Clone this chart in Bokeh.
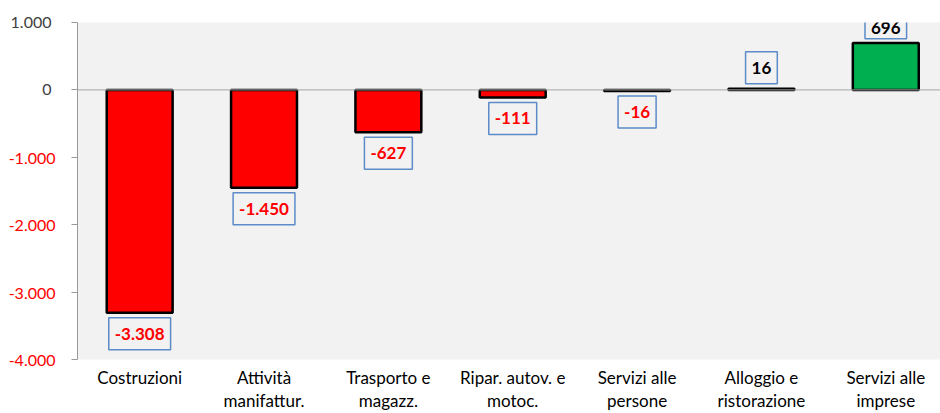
from bokeh.plotting import figure
from bokeh.models import (Range1d, FixedTicker, LinearAxis, Span, Label)
from bokeh.embed import file_html
from bokeh.resources import INLINE

categories = ["Costruzioni", "Attività\nmanifattur.", "Trasporto e\nmagazz.",
              "Ripar. autov. e\nmotoc.", "Servizi alle\npersone",
              "Alloggio e\nristorazione", "Servizi alle\nimprese"]
values = [-3308, -1450, -627, -111, -16, 16, 696]
y_ticks = [-4000, -3000, -2000, -1000, 0, 1000]

def it_fmt(v):
    return f"{v:,}".replace(",", ".")

x_pos = list(range(len(categories)))
colors = ["#FF0000" if v < 0 else "#00B050" for v in values]

FONT = "Lato"
Y0, Y1 = -4000, 1000
FRAME_H = 337

p = figure(width=940, height=413, output_backend="svg", toolbar_location=None,
           x_range=Range1d(-0.5, 6.44), y_range=Range1d(Y0, Y1),
           min_border_top=22, min_border_right=0, min_border_left=77,
           min_border_bottom=10)
p.background_fill_color = "#F2F2F2"
p.border_fill_color = "white"
p.outline_line_color = None
p.xgrid.visible = False
p.ygrid.visible = False

# x axis
xa = p.xaxis[0]
xa.ticker = FixedTicker(ticks=x_pos)
xa.major_label_overrides = {i: c for i, c in zip(x_pos, categories)}
xa.axis_line_color = None
xa.major_tick_line_color = None
xa.minor_tick_line_color = None
xa.major_label_text_font = FONT
xa.major_label_text_font_size = "17px"
xa.major_label_text_color = "#000000"
xa.major_label_text_line_height = 1.1
xa.major_label_standoff = 1

# y axis (negative labels in red)
ya = p.yaxis[0]
ya.ticker = FixedTicker(ticks=y_ticks)
ya.major_label_overrides = {t: (it_fmt(t) if t < 0 else " ") for t in y_ticks}
ya.axis_line_color = "#999999"
ya.major_tick_line_color = "#999999"
ya.major_tick_out = 6
ya.major_tick_in = 0
ya.minor_tick_line_color = None
ya.major_label_text_font = FONT
ya.major_label_text_font_size = "16px"
ya.major_label_text_color = "#FF0000"
ya.major_label_standoff = 16

# second y axis for non-negative labels (dark)
ya2 = LinearAxis(ticker=FixedTicker(ticks=[t for t in y_ticks if t >= 0]))
ya2.major_label_overrides = {t: it_fmt(t) for t in y_ticks if t >= 0}
ya2.axis_line_color = None
ya2.major_tick_line_color = None
ya2.minor_tick_line_color = None
ya2.major_label_text_font = FONT
ya2.major_label_text_font_size = "16px"
ya2.major_label_text_color = "#404040"
ya2.major_label_standoff = -52
p.add_layout(ya2, "left")

p.add_layout(Span(location=0, dimension="width", line_color="#A6A6A6", line_width=1))

p.vbar(x=x_pos, top=values, bottom=0, width=0.53, fill_color=colors,
       line_color="black", line_width=2.5)

px_per_unit = FRAME_H / (Y1 - Y0)
for x, v in zip(x_pos, values):
    pad_v, off = 10, 21
    if v > 0:
        top_space = (Y1 - v) * px_per_unit
        if top_space < 2 * off:
            pad_v = max(2, int(round((top_space - 10) / 2)))
            off = 5 + top_space / 2
    p.add_layout(Label(x=x, y=v, y_offset=(-off if v < 0 else off), text=it_fmt(v),
                       text_align="center", text_baseline="middle",
                       text_font=FONT, text_font_style="bold", text_font_size="17px",
                       text_color=("#FF0000" if v < 0 else "#000000"),
                       border_line_color="#5B8BC8", border_line_width=1.5,
                       background_fill_color=None,
                       padding=dict(top=pad_v, bottom=pad_v, left=6, right=6)))

open("out.html", "w").write(file_html(p, INLINE))
